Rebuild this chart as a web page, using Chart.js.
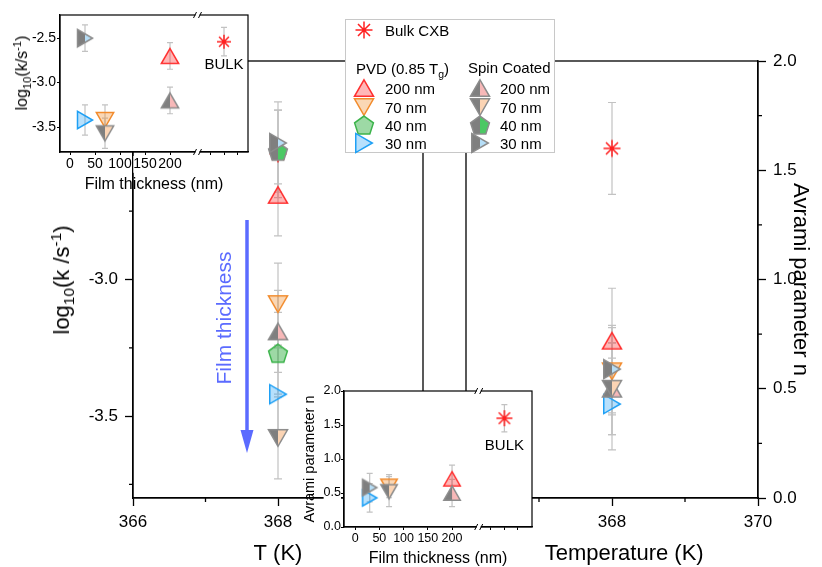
<!DOCTYPE html>
<html>
<head>
<meta charset="utf-8">
<script src="https://cdn.jsdelivr.net/npm/chart.js@4.4.1/dist/chart.umd.min.js"></script>
<style>
  html, body { margin: 0; padding: 0; background: #fff; }
  body { width: 822px; height: 567px; position: relative; overflow: hidden;
         font-family: 'Liberation Sans', Arial, sans-serif; color: #000; }
  .box { position: absolute; }
  .rot { position: absolute; white-space: nowrap; line-height: 1;
         transform: translate(-50%, -50%) rotate(-90deg); }
  .rot sub, .rot sup { font-size: 70%; line-height: 0; }
  #legend { position: absolute; left: 345px; top: 19px; width: 208px; height: 132px;
            border: 1px solid #c8c8c8; background: #fff; font-size: 15px; }
  #legend span { position: absolute; white-space: nowrap; line-height: 1; transform: translateY(-50%); }
  #legend canvas { position: absolute; }
  #legend sub { font-size: 70%; line-height: 0; }
</style>
</head>
<body>
<div class="box" style="left:0;top:0;width:822px;height:567px"><canvas id="mainK"></canvas></div>
<div class="box" style="left:0;top:0;width:822px;height:567px"><canvas id="mainN"></canvas></div>
<div class="rot" style="left:62px;top:280px;font-size:22px">log<sub>10</sub>(k /s<sup>-1</sup>)</div>
<div class="rot" style="left:223px;top:318px;font-size:21px;color:#5b6bff">Film thickness</div>
<svg class="box" style="left:0;top:0" width="822" height="567">
  <line x1="247" y1="220" x2="247" y2="433" stroke="#5b6bff" stroke-width="3.5"/>
  <polygon points="240.5,430 253.5,430 247,453" fill="#5b6bff"/>
</svg>
<div class="box" style="left:0;top:0;width:260px;height:200px"><canvas id="insetK"></canvas></div>
<div class="rot" style="left:22px;top:73px;font-size:16px">log<sub>10</sub>(k/s<sup>-1</sup>)</div>
<div class="box" style="left:290px;top:380px;width:260px;height:187px"><canvas id="insetN"></canvas></div>
<div id="legend"></div>

<script>
// ---- data ----
const temperatureK = 368;
const sizeLabels = ['200 nm', '70 nm', '40 nm', '30 nm'];
const thicknessNm = [200, 70, 40, 30];

// log10(k/s^-1) at 368 K
const pvdLogK = [-2.69, -3.09, -3.27, -3.42];
const spinLogK = [-3.19, -3.58, -2.53, -2.50];
const bulkLogK = [-2.54];
const pvdLogKErr = [0.15, 0.15, 0.15, 0.17];
const spinLogKErr = [0.15, 0.15, 0.15, 0.15];
const bulkLogKErr = [0.16];

// Avrami parameter n at 368 K (no value for 40 nm)
const pvdN = [0.72, 0.58, null, 0.43];
const spinN = [0.50, 0.50, null, 0.59];
const bulkN = [1.60];
const pvdNErr = [0.24, 0.20, null, 0.21];
const spinNErr = [0.21, 0.21, null, 0.20];
const bulkNErr = [0.21];

// insets: value vs film thickness
const insetNm = [200, 70, 30];
const insetPvdLogK = [-2.70, -3.42, -3.42];
const insetSpinLogK = [-3.20, -3.57, -2.50];
const insetBulkLogK = [-2.54];
const insetPvdLogKErr = [0.15, 0.17, 0.17];
const insetSpinLogKErr = [0.15, 0.17, 0.15];
const insetBulkLogKErr = [0.16];
const insetPvdN = [0.71, 0.60, 0.43];
const insetSpinN = [0.50, 0.52, 0.58];
const insetBulkN = [1.60];
const insetPvdNErr = [0.20, 0.17, 0.21];
const insetSpinNErr = [0.20, 0.22, 0.21];
const insetBulkNErr = [0.20];
const bulkAxisPos = 308;   // where "BULK" sits after the axis break
const axisBreak = 255;

// ---- styles ----
const FONT = "'Liberation Sans', Arial, sans-serif";
Chart.defaults.font.family = FONT;
Chart.defaults.color = '#000';
const shapes = ['up', 'down', 'pentagon', 'right'];
const strokeColors = ['#ff3030', '#f28b2c', '#3cb44b', '#1ea0f5'];
const pvdFills = ['rgba(255,48,48,0.35)', 'rgba(242,139,44,0.35)', 'rgba(60,180,75,0.5)', 'rgba(30,160,245,0.32)'];
const spinFills = ['#f7b8b8', '#fbd4b4', '#4cc864', '#b6def7'];
const bulkColor = '#ff2020';

function makeMarker(shape, stroke, fill, spin, r) {
  const s = 2 * Math.ceil(r + 2);
  const c = document.createElement('canvas');
  c.width = s; c.height = s;
  const g = c.getContext('2d');
  g.translate(s / 2, s / 2);
  g.lineWidth = 1.5;
  if (shape === 'star') {
    g.strokeStyle = stroke;
    g.beginPath();
    for (let k = 0; k < 4; k++) {
      const a = k * Math.PI / 4;
      g.moveTo(Math.cos(a) * r, Math.sin(a) * r);
      g.lineTo(-Math.cos(a) * r, -Math.sin(a) * r);
    }
    g.stroke();
    return c;
  }
  const start = {up: -90, down: 90, right: 0, pentagon: -90}[shape];
  const n = shape === 'pentagon' ? 5 : 3;
  const rr = shape === 'pentagon' ? r * 0.9 : r;
  const pts = [];
  for (let k = 0; k < n; k++) {
    const a = (start + k * 360 / n) * Math.PI / 180;
    pts.push([Math.cos(a) * rr, Math.sin(a) * rr]);
  }
  const xs = pts.map(p => p[0]), ys = pts.map(p => p[1]);
  const ox = (Math.min(...xs) + Math.max(...xs)) / 2, oy = (Math.min(...ys) + Math.max(...ys)) / 2;
  g.beginPath();
  pts.forEach((p, k) => k ? g.lineTo(p[0] - ox, p[1] - oy) : g.moveTo(p[0] - ox, p[1] - oy));
  g.closePath();
  if (spin) {
    g.save(); g.clip();
    g.fillStyle = '#7f7f7f'; g.fillRect(-s, -s, s, 2 * s);
    g.fillStyle = fill; g.fillRect(0, -s, s, 2 * s);
    g.restore();
    g.strokeStyle = '#8c8c8c';
  } else {
    g.fillStyle = fill; g.fill();
    g.strokeStyle = stroke;
  }
  g.stroke();
  return c;
}
const pvdMarkers = r => shapes.map((sh, i) => makeMarker(sh, strokeColors[i], pvdFills[i], false, r));
const spinMarkers = r => shapes.map((sh, i) => makeMarker(sh, strokeColors[i], spinFills[i], true, r));
const insetIdx = insetNm.map(t => thicknessNm.indexOf(t));

// ---- plugins ----
const errorBars = {
  id: 'errorBars',
  beforeDatasetsDraw(chart, args, opts) {
    const {ctx, scales: {x, y}} = chart;
    const c = opts.cap || 4;
    ctx.save();
    ctx.strokeStyle = '#c2c2c2';
    ctx.lineWidth = 1.2;
    chart.data.datasets.forEach(ds => {
      (ds.errors || []).forEach((e, j) => {
        const p = ds.data[j];
        if (!p || p.y == null || e == null) return;
        const px = x.getPixelForValue(p.x);
        const y1 = y.getPixelForValue(p.y + e), y2 = y.getPixelForValue(p.y - e);
        ctx.beginPath();
        ctx.moveTo(px, y1); ctx.lineTo(px, y2);
        ctx.moveTo(px - c, y1); ctx.lineTo(px + c, y1);
        ctx.moveTo(px - c, y2); ctx.lineTo(px + c, y2);
        ctx.stroke();
      });
    });
    ctx.restore();
  }
};

const frame = {
  id: 'frame',
  beforeDraw(chart, args, opts) {
    const a = chart.chartArea, ctx = chart.ctx;
    if (opts.fill) {
      ctx.save(); ctx.fillStyle = opts.fill;
      ctx.fillRect(a.left, a.top, a.right - a.left, a.bottom - a.top);
      ctx.restore();
    }
  },
  afterDraw(chart, args, opts) {
    const a = chart.chartArea, ctx = chart.ctx;
    const xs = chart.scales.x, ys = chart.scales.y;
    ctx.save();
    ctx.strokeStyle = '#000';
    ctx.lineWidth = opts.lineWidth || 1.3;
    ctx.strokeRect(a.left, a.top, a.right - a.left, a.bottom - a.top);
    const len = opts.minorLen || 4;
    ctx.beginPath();
    (opts.minorX || []).forEach(v => {
      const px = xs.getPixelForValue(v);
      ctx.moveTo(px, a.bottom); ctx.lineTo(px, a.bottom + len);
    });
    (opts.minorY || []).forEach(v => {
      const py = ys.getPixelForValue(v);
      const right = ys.options.position === 'right';
      const x0 = right ? a.right : a.left;
      ctx.moveTo(x0, py); ctx.lineTo(x0 + (right ? len : -len), py);
    });
    ctx.stroke();
    if (opts.breakAt != null) {
      const bx = xs.getPixelForValue(opts.breakAt);
      [a.top, a.bottom].forEach(y => {
        ctx.fillStyle = '#fff';
        ctx.fillRect(bx - 2, y - 2, 4, 4);
        ctx.lineWidth = 1;
        ctx.beginPath();
        ctx.moveTo(bx - 4, y + 3); ctx.lineTo(bx - 1, y - 3);
        ctx.moveTo(bx + 1, y + 3); ctx.lineTo(bx + 4, y - 3);
        ctx.stroke();
      });
    }
    (opts.labels || []).forEach(l => {
      ctx.fillStyle = '#000';
      ctx.font = l.size + 'px ' + FONT;
      ctx.textAlign = 'center';
      ctx.textBaseline = 'middle';
      ctx.fillText(l.text, xs.getPixelForValue(l.x), ys.getPixelForValue(l.y) + l.dy);
    });
    ctx.restore();
  }
};

function axis(opts) {
  return Object.assign({
    type: 'linear',
    grid: {drawOnChartArea: false, drawTicks: true, tickLength: 8, color: '#000', tickWidth: 1.3},
    border: {color: '#000', width: 1.3}
  }, opts);
}
function fixTicks(values) {
  return s => { s.ticks = values.map(v => ({value: v})); };
}
function pts(xs, ys) {
  return ys.map((v, i) => ({x: Array.isArray(xs) ? xs[i] : xs, y: v}));
}
const baseOpts = {
  responsive: true, maintainAspectRatio: false, animation: false,
  events: []
};

// ---- main panel: log10 k ----
new Chart(document.getElementById('mainK'), {
  type: 'scatter',
  data: {
    datasets: [
      {data: pts(temperatureK, spinLogK), errors: spinLogKErr, pointStyle: spinMarkers(11), pointRadius: 11},
      {data: pts(temperatureK, pvdLogK), errors: pvdLogKErr, pointStyle: pvdMarkers(11), pointRadius: 11},
      {data: pts(temperatureK, bulkLogK), errors: bulkLogKErr, pointStyle: makeMarker('star', bulkColor, null, false, 8.5), pointRadius: 9}
    ]
  },
  options: Object.assign({}, baseOpts, {
    layout: {padding: {left: 0, top: 61, right: 399, bottom: 0}},
    scales: {
      x: axis({
        min: 366, max: 370, position: 'bottom',
        afterBuildTicks: fixTicks([366, 368, 370]),
        afterFit: s => { s.height = 69; },
        ticks: {font: {size: 17}, padding: 6, maxRotation: 0, autoSkip: false,
                callback: v => v === 370 ? '' : String(v)},
        title: {display: true, text: 'T (K)', font: {size: 22, lineHeight: 1}, padding: {top: 0, bottom: 2}}
      }),
      y: axis({
        min: -3.8, max: -2.2, position: 'left',
        afterBuildTicks: fixTicks([-3.5, -3.0, -2.5]),
        afterFit: s => { s.width = 133; },
        ticks: {font: {size: 17}, padding: 7, callback: v => v.toFixed(1)}
      })
    },
    plugins: {
      legend: {display: false}, tooltip: {enabled: false},
      errorBars: {cap: 4},
      frame: {minorX: [367, 369], minorY: [-3.75, -3.25, -2.75], minorLen: 4}
    }
  }),
  plugins: [errorBars, frame]
});

// ---- main panel: Avrami n ----
new Chart(document.getElementById('mainN'), {
  type: 'scatter',
  data: {
    datasets: [
      {data: pts(temperatureK, spinN), errors: spinNErr, pointStyle: spinMarkers(11), pointRadius: 11},
      {data: pts(temperatureK, pvdN), errors: pvdNErr, pointStyle: pvdMarkers(11), pointRadius: 11},
      {data: pts(temperatureK, bulkN), errors: bulkNErr, pointStyle: makeMarker('star', bulkColor, null, false, 8.5), pointRadius: 9}
    ]
  },
  options: Object.assign({}, baseOpts, {
    layout: {padding: {left: 466, top: 61, right: 0, bottom: 0}},
    scales: {
      x: axis({
        min: 366, max: 370, position: 'bottom',
        afterBuildTicks: fixTicks([366, 368, 370]),
        afterFit: s => { s.height = 69; },
        ticks: {font: {size: 17}, padding: 6, maxRotation: 0, autoSkip: false,
                callback: v => v === 366 ? '' : String(v)},
        title: {display: true, text: '    Temperature (K)', font: {size: 22, lineHeight: 1}, padding: {top: 0, bottom: 2}}
      }),
      y: axis({
        min: 0, max: 2, position: 'right',
        afterBuildTicks: fixTicks([0, 0.5, 1, 1.5, 2]),
        afterFit: s => { s.width = 64; },
        ticks: {font: {size: 17}, padding: 7, callback: v => v.toFixed(1)},
        title: {display: true, text: 'Avrami parameter n', font: {size: 22, lineHeight: 1}, padding: {top: 11, bottom: 0}}
      })
    },
    plugins: {
      legend: {display: false}, tooltip: {enabled: false},
      errorBars: {cap: 4},
      frame: {minorX: [367, 369], minorY: [0.25, 0.75, 1.25, 1.75], minorLen: 4}
    }
  }),
  plugins: [errorBars, frame]
});

// ---- inset ticks shared ----
const insetTickValues = [0, 50, 100, 150, 200, 280, 308, 335];
const insetTickLabel = v => v <= 200 ? String(v) : '';
const smallGrid = {drawOnChartArea: false, drawTicks: true, tickLength: 3, color: '#000', tickWidth: 1};

// ---- inset: log10 k vs thickness ----
new Chart(document.getElementById('insetK'), {
  type: 'scatter',
  data: {
    datasets: [
      {data: pts(insetNm, insetSpinLogK), errors: insetSpinLogKErr,
       pointStyle: insetIdx.map(i => spinMarkers(10)[i]), pointRadius: 10},
      {data: pts(insetNm, insetPvdLogK), errors: insetPvdLogKErr,
       pointStyle: insetIdx.map(i => pvdMarkers(10)[i]), pointRadius: 10},
      {data: pts(bulkAxisPos, insetBulkLogK), errors: insetBulkLogKErr,
       pointStyle: makeMarker('star', bulkColor, null, false, 7), pointRadius: 7}
    ]
  },
  options: Object.assign({}, baseOpts, {
    layout: {padding: {left: 0, top: 15, right: 12, bottom: 0}},
    scales: {
      x: axis({
        min: -20, max: 356, position: 'bottom', grid: smallGrid,
        afterBuildTicks: fixTicks(insetTickValues),
        afterFit: s => { s.height = 48; },
        ticks: {font: {size: 14}, padding: 1, maxRotation: 0, autoSkip: false, callback: insetTickLabel,
                showLabelBackdrop: true, backdropColor: '#fff', backdropPadding: 0},
        title: {display: true, text: 'Film thickness (nm)', font: {size: 16, lineHeight: 1}, padding: {top: 0, bottom: 7}}
      }),
      y: axis({
        min: -3.78, max: -2.24, position: 'left', grid: smallGrid,
        afterBuildTicks: fixTicks([-3.5, -3.0, -2.5]),
        afterFit: s => { s.width = 60; },
        ticks: {font: {size: 14}, padding: 1, callback: v => v.toFixed(1),
                showLabelBackdrop: true, backdropColor: '#fff', backdropPadding: 0}
      })
    },
    plugins: {
      legend: {display: false}, tooltip: {enabled: false},
      errorBars: {cap: 3},
      frame: {fill: '#fff', lineWidth: 1.2, breakAt: axisBreak,
              labels: [{text: 'BULK', x: bulkAxisPos, y: insetBulkLogK[0], dy: 23, size: 15}]}
    }
  }),
  plugins: [errorBars, frame]
});

// ---- inset: Avrami n vs thickness ----
new Chart(document.getElementById('insetN'), {
  type: 'scatter',
  data: {
    datasets: [
      {data: pts(insetNm, insetSpinN), errors: insetSpinNErr,
       pointStyle: insetIdx.map(i => spinMarkers(9.5)[i]), pointRadius: 9.5},
      {data: pts(insetNm, insetPvdN), errors: insetPvdNErr,
       pointStyle: insetIdx.map(i => pvdMarkers(9.5)[i]), pointRadius: 9.5},
      {data: pts(bulkAxisPos, insetBulkN), errors: insetBulkNErr,
       pointStyle: makeMarker('star', bulkColor, null, false, 8), pointRadius: 8}
    ]
  },
  options: Object.assign({}, baseOpts, {
    layout: {padding: {left: 0, top: 11, right: 18, bottom: 0}},
    scales: {
      x: axis({
        min: -23, max: 365, position: 'bottom', grid: smallGrid,
        afterBuildTicks: fixTicks(insetTickValues),
        afterFit: s => { s.height = 40; },
        ticks: {font: {size: 12.5}, padding: 1, maxRotation: 0, autoSkip: false, callback: insetTickLabel,
                showLabelBackdrop: true, backdropColor: '#fff', backdropPadding: 0},
        title: {display: true, text: 'Film thickness (nm)', font: {size: 16, lineHeight: 1}, padding: {top: 0, bottom: 0}}
      }),
      y: axis({
        min: 0, max: 2, position: 'left', grid: smallGrid,
        afterBuildTicks: fixTicks([0, 0.5, 1, 1.5, 2]),
        afterFit: s => { s.width = 54; },
        ticks: {font: {size: 12.5}, padding: 0, callback: v => v.toFixed(1),
                showLabelBackdrop: true, backdropColor: '#fff', backdropPadding: 0},
        title: {display: true, text: 'Avrami parameter n', font: {size: 14.5, lineHeight: 1}, padding: {top: 12.75, bottom: 0}}
      })
    },
    plugins: {
      legend: {display: false}, tooltip: {enabled: false},
      errorBars: {cap: 3},
      frame: {fill: '#fff', lineWidth: 1.2, breakAt: axisBreak,
              labels: [{text: 'BULK', x: bulkAxisPos, y: insetBulkN[0], dy: 28, size: 15}]}
    }
  }),
  plugins: [errorBars, frame]
});

// ---- legend ----
const legend = document.getElementById('legend');
function addText(html, left, cy) {
  const s = document.createElement('span');
  s.innerHTML = html; s.style.left = left + 'px'; s.style.top = cy + 'px';
  legend.appendChild(s);
}
function addMarker(c, cx, cy) {
  c.style.left = (cx - c.width / 2) + 'px'; c.style.top = (cy - c.height / 2) + 'px';
  legend.appendChild(c);
}
addMarker(makeMarker('star', bulkColor, null, false, 8.5), 18, 10);
addText('Bulk CXB', 39, 10);
addText('PVD (0.85 T<sub>g</sub>)', 10, 48);
addText('Spin Coated', 122, 47);
const rowY = [68, 87, 105, 123];
const pvdLeg = pvdMarkers(11), spinLeg = spinMarkers(11);
sizeLabels.forEach((lab, i) => {
  addMarker(pvdLeg[i], 18, rowY[i]);
  addText(lab, 39, rowY[i]);
  addMarker(spinLeg[i], 134, rowY[i]);
  addText(lab, 154, rowY[i]);
});
</script>
</body>
</html>
